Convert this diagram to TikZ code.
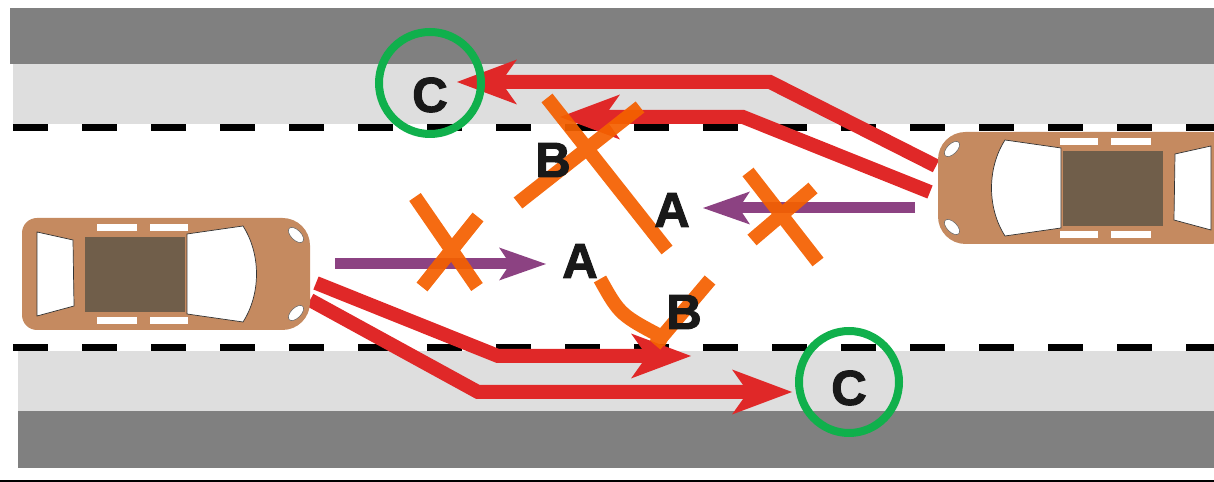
\documentclass[tikz,border=0pt]{standalone}
\usepackage{fontspec}
\setmainfont{Liberation Sans}
\newfontfamily\heavyfont[BoldFeatures={FakeBold=2}]{Liberation Sans}
\usetikzlibrary{arrows.meta}
\definecolor{roaddark}{RGB}{128,128,128}
\definecolor{roadlight}{RGB}{222,222,222}
\definecolor{carbody}{RGB}{197,138,96}
\definecolor{carroof}{RGB}{112,94,74}
\definecolor{pathred}{RGB}{224,40,40}
\definecolor{pathpurple}{RGB}{140,66,130}
\definecolor{crossorange}{RGB}{244,96,0}
\definecolor{ringgreen}{RGB}{16,176,76}
\begin{document}
\begin{tikzpicture}[x=0.02cm, y=-0.02cm,
    redpath/.style={draw=pathred, line width=0.28cm, -{Stealth[length=1.2cm, width=0.9cm, inset=0.32cm, line width=0pt]}},
    purplepath/.style={draw=pathpurple, line width=0.22cm, -{Stealth[length=0.94cm, width=0.66cm, inset=0.22cm, line width=0pt]}},
    cross/.style={draw=crossorange, line width=0.28cm, opacity=0.93},
    letter/.style={font=\heavyfont\fontsize{28}{30}\selectfont\bfseries, text=black!90, inner sep=0pt},
    ring/.style={draw=ringgreen, line width=0.16cm},
    glass/.style={fill=white, draw=black!80, line width=0.4pt},
    car/.pic={
      \fill[carbody] (0,-56) [rounded corners=0.55cm] -- (144,-56) -- (144,56) -- (0,56)
        [rounded corners=0.3cm] -- (-144,56) -- (-144,-56) -- cycle;
      \filldraw[glass] (-129,-42) -- (-93,-34) -- (-92,32) -- (-129,42) -- cycle;
      \fill[carroof] (-81,-37) rectangle (19,38);
      \filldraw[glass] (21,-40) -- (77,-48) .. controls (95,-20) and (95,20) .. (77,48) -- (21,40) -- cycle;
      \foreach \y in {-50,43} {
        \fill[white] (-69,\y) rectangle ++(40,7);
        \fill[white] (-16,\y) rectangle ++(38,7);
      }
      \filldraw[fill=white, draw=black!60, line width=0.3pt, rotate around={-45:(130,-39)}] (130,-39) ellipse (9.5 and 5);
      \filldraw[fill=white, draw=black!60, line width=0.3pt, rotate around={45:(130,39)}] (130,39) ellipse (9.5 and 5);
    }]
  \useasboundingbox (0,0) rectangle (1214,482);
  % road
  \fill[roaddark] (10,8) rectangle (1214,64);
  \fill[roadlight] (13,64) rectangle (1214,124);
  \fill[roadlight] (18,351) rectangle (1214,411);
  \fill[roaddark] (18,411) rectangle (1214,468);
  \foreach \x in {13,82,...,1200} {
    \fill (\x,124) rectangle ++(35,7);
    \fill (\x,344) rectangle ++(35,7);
  }
  \draw[line width=0.04cm] (0,481) -- (1214,481);
  % paths
  \draw[redpath] (936,166) -- (770,82) -- (457,82);
  \draw[redpath] (930,192) -- (743,117) -- (560,117);
  \draw[redpath] (316,283) -- (498,356) -- (691,356);
  \draw[redpath] (310,300) -- (478,392) -- (792,392);
  % cars
  \pic (carL) at (166,274) {car};
  \pic[xscale=-1] (carR) at (1082,188) {car};
  \draw[purplepath] (335,264) -- (546,264);
  \draw[purplepath] (915,208) -- (703,208);
  % crossings
  \draw[cross] (415,197) -- (477,287) (478,217) -- (422,287);
  \draw[cross] (748,172) -- (818,262) (813,188) -- (752,240);
  \draw[cross] (547,98) -- (667,250) (640,107) -- (518,203);
  \draw[cross] (600,279) .. controls (620,315) .. (668,340) (710,280) -- (655,345);
  % labels
  \node[letter] (cTop) at (430,95) {C};
  \node[letter] (cBot) at (849,388) {C};
  \node[letter] (bUp) at (553,160) {B};
  \node[letter] (aUp) at (672,210) {A};
  \node[letter] (aMid) at (580,261) {A};
  \node[letter] (bLow) at (684,312) {B};
  \draw[ring] (cTop.center) ++(0,-12) circle (51);
  \draw[ring] (cBot.center) ++(0,-6) ellipse (50 and 51);
\end{tikzpicture}
\end{document}
